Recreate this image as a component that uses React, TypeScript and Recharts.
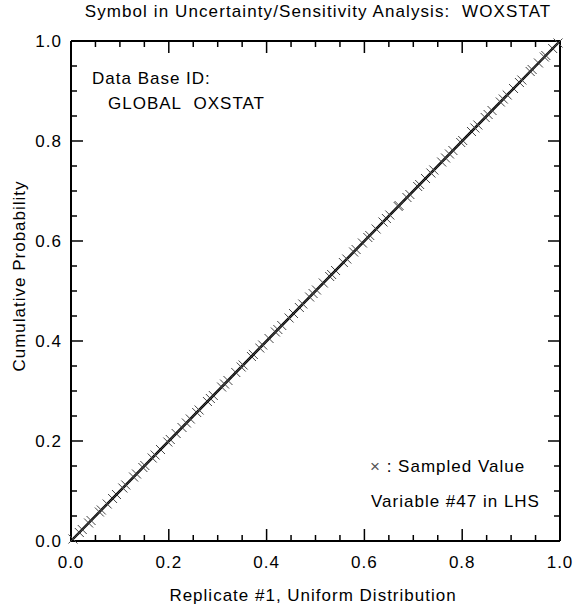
import React from "react";
import {
  ComposedChart,
  XAxis,
  YAxis,
  Line,
  Scatter,
} from "recharts";

const sampledValues = [
  0.004, 0.017, 0.023, 0.036, 0.041, 0.058, 0.062, 0.074, 0.085, 0.093,
  0.106, 0.112, 0.128, 0.134, 0.147, 0.151, 0.166, 0.172, 0.183, 0.198,
  0.203, 0.215, 0.227, 0.236, 0.244, 0.257, 0.262, 0.279, 0.285, 0.291,
  0.308, 0.314, 0.321, 0.337, 0.348, 0.352, 0.369, 0.373, 0.386, 0.392,
  0.405, 0.418, 0.423, 0.431, 0.446, 0.455, 0.467, 0.474, 0.488, 0.495,
  0.502, 0.516, 0.529, 0.533, 0.541, 0.557, 0.564, 0.578, 0.583, 0.596,
  0.607, 0.611, 0.624, 0.638, 0.645, 0.652, 0.669, 0.671, 0.687, 0.693,
  0.709, 0.713, 0.725, 0.736, 0.742, 0.758, 0.766, 0.774, 0.781, 0.797,
  0.801, 0.819, 0.826, 0.832, 0.847, 0.853, 0.861, 0.878, 0.884, 0.892,
  0.905, 0.917, 0.922, 0.939, 0.943, 0.956, 0.968, 0.971, 0.985, 0.996,
];

// uniform CDF end points
const cdfLine = [
  { x: 0, y: 0 },
  { x: 1, y: 1 },
];

const labelTicks = [0, 0.2, 0.4, 0.6, 0.8, 1];
const majorInner = [0.2, 0.4, 0.6, 0.8];
const minorInner = [
  0.05, 0.1, 0.15, 0.25, 0.3, 0.35, 0.45, 0.5, 0.55,
  0.65, 0.7, 0.75, 0.85, 0.9, 0.95,
];

const FONT = "'Liberation Sans', Arial, Helvetica, sans-serif";
const points = sampledValues.map((v) => ({ x: v, y: v }));

const onBottom = (v: number) => ({ x: v, y: 0 });
const onTop = (v: number) => ({ x: v, y: 1 });
const onLeft = (v: number) => ({ x: 0, y: v });
const onRight = (v: number) => ({ x: 1, y: v });

// inward tick marks drawn as scatter symbols on the frame
const UpMajor = (p: any) => (
  <g stroke="#000" strokeWidth={1.5}><line x1={p.cx} y1={p.cy} x2={p.cx} y2={p.cy - 12} /></g>
);
const UpMinor = (p: any) => (
  <g stroke="#000" strokeWidth={1.5}><line x1={p.cx} y1={p.cy} x2={p.cx} y2={p.cy - 6} /></g>
);
const DownMajor = (p: any) => (
  <g stroke="#000" strokeWidth={1.5}><line x1={p.cx} y1={p.cy} x2={p.cx} y2={p.cy + 12} /></g>
);
const DownMinor = (p: any) => (
  <g stroke="#000" strokeWidth={1.5}><line x1={p.cx} y1={p.cy} x2={p.cx} y2={p.cy + 6} /></g>
);
const RightMajor = (p: any) => (
  <g stroke="#000" strokeWidth={1.5}><line x1={p.cx} y1={p.cy} x2={p.cx + 12} y2={p.cy} /></g>
);
const RightMinor = (p: any) => (
  <g stroke="#000" strokeWidth={1.5}><line x1={p.cx} y1={p.cy} x2={p.cx + 6} y2={p.cy} /></g>
);
const LeftMajor = (p: any) => (
  <g stroke="#000" strokeWidth={1.5}><line x1={p.cx} y1={p.cy} x2={p.cx - 12} y2={p.cy} /></g>
);
const LeftMinor = (p: any) => (
  <g stroke="#000" strokeWidth={1.5}><line x1={p.cx} y1={p.cy} x2={p.cx - 6} y2={p.cy} /></g>
);

const BottomLabel = (props: any) => (
  <text x={props.x} y={props.y} textAnchor="middle" fontSize={17} letterSpacing={1}
    fontFamily={FONT} fill="#000">
    {Number(props.payload.value).toFixed(1)}
  </text>
);

const LeftLabel = (props: any) => (
  <text x={props.x} y={props.y + 6} textAnchor="end" fontSize={17} letterSpacing={1}
    fontFamily={FONT} fill="#000">
    {Number(props.payload.value).toFixed(1)}
  </text>
);

const Cross = (props: any) => {
  const { cx, cy } = props;
  const s = 4.5;
  return (
    <g stroke="#444" strokeWidth={1}>
      <line x1={cx - s} y1={cy - s} x2={cx + s} y2={cy + s} />
      <line x1={cx - s} y1={cy + s} x2={cx + s} y2={cy - s} />
    </g>
  );
};

const frame = { stroke: "#000", strokeWidth: 2 };
const noLabel = () => <g />;

export default function App() {
  return (
    <div style={{ position: "absolute", left: 0, top: 0, width: 578, height: 605, background: "#fff" }}>
      <ComposedChart
        width={578}
        height={605}
        margin={{ top: 40, right: 17, bottom: 0, left: 0 }}
      >
        <XAxis xAxisId="b" type="number" dataKey="x" domain={[0, 1]} ticks={labelTicks} interval={0}
          height={64} tickSize={0} tickMargin={27} tickLine={false} axisLine={frame}
          tick={<BottomLabel />} />
        <XAxis xAxisId="t" orientation="top" type="number" domain={[0, 1]} ticks={labelTicks}
          height={1} tickLine={false} axisLine={frame} tick={noLabel} />
        <YAxis yAxisId="l" type="number" dataKey="y" domain={[0, 1]} ticks={labelTicks} interval={0}
          width={71} tickSize={0} tickMargin={9} tickLine={false} axisLine={frame}
          tick={<LeftLabel />} />
        <YAxis yAxisId="r" orientation="right" type="number" domain={[0, 1]} ticks={labelTicks}
          width={1} tickLine={false} axisLine={frame} tick={noLabel} />

        <Scatter xAxisId="b" yAxisId="l" data={majorInner.map(onBottom)} dataKey="y" shape={<UpMajor />} isAnimationActive={false} />
        <Scatter xAxisId="b" yAxisId="l" data={minorInner.map(onBottom)} dataKey="y" shape={<UpMinor />} isAnimationActive={false} />
        <Scatter xAxisId="b" yAxisId="l" data={majorInner.map(onTop)} dataKey="y" shape={<DownMajor />} isAnimationActive={false} />
        <Scatter xAxisId="b" yAxisId="l" data={minorInner.map(onTop)} dataKey="y" shape={<DownMinor />} isAnimationActive={false} />
        <Scatter xAxisId="b" yAxisId="l" data={majorInner.map(onLeft)} dataKey="y" shape={<RightMajor />} isAnimationActive={false} />
        <Scatter xAxisId="b" yAxisId="l" data={minorInner.map(onLeft)} dataKey="y" shape={<RightMinor />} isAnimationActive={false} />
        <Scatter xAxisId="b" yAxisId="l" data={majorInner.map(onRight)} dataKey="y" shape={<LeftMajor />} isAnimationActive={false} />
        <Scatter xAxisId="b" yAxisId="l" data={minorInner.map(onRight)} dataKey="y" shape={<LeftMinor />} isAnimationActive={false} />

        <Line
          xAxisId="b"
          yAxisId="l"
          data={cdfLine}
          dataKey="y"
          stroke="#000"
          strokeWidth={2.5}
          dot={false}
          isAnimationActive={false}
        />
        <Scatter
          xAxisId="b"
          yAxisId="l"
          data={points}
          dataKey="y"
          shape={<Cross />}
          isAnimationActive={false}
        />
      </ComposedChart>
      <svg
        width={578}
        height={605}
        style={{ position: "absolute", left: 0, top: 0, pointerEvents: "none" }}
        fontFamily={FONT}
        fontSize={17}
        fill="#000"
      >
        <text x={318} y={17} textAnchor="middle" letterSpacing={1.1}>
          Symbol in Uncertainty/Sensitivity Analysis:{"\u00a0\u00a0"}WOXSTAT
        </text>
        <text x={313} y={601} textAnchor="middle" letterSpacing={1}>
          Replicate #1, Uniform Distribution
        </text>
        <text x={25} y={276} textAnchor="middle" letterSpacing={1} transform="rotate(-90 25 276)">
          Cumulative Probability
        </text>
        <text x={92} y={84} letterSpacing={1}>Data Base ID:</text>
        <text x={108} y={109} letterSpacing={1}>GLOBAL{"\u00a0\u00a0"}OXSTAT</text>
        <text x={370} y={472} letterSpacing={1}>
          <tspan fill="#555">×</tspan> : Sampled Value
        </text>
        <text x={371} y={507} letterSpacing={1}>Variable #47 in LHS</text>
      </svg>
    </div>
  );
}
